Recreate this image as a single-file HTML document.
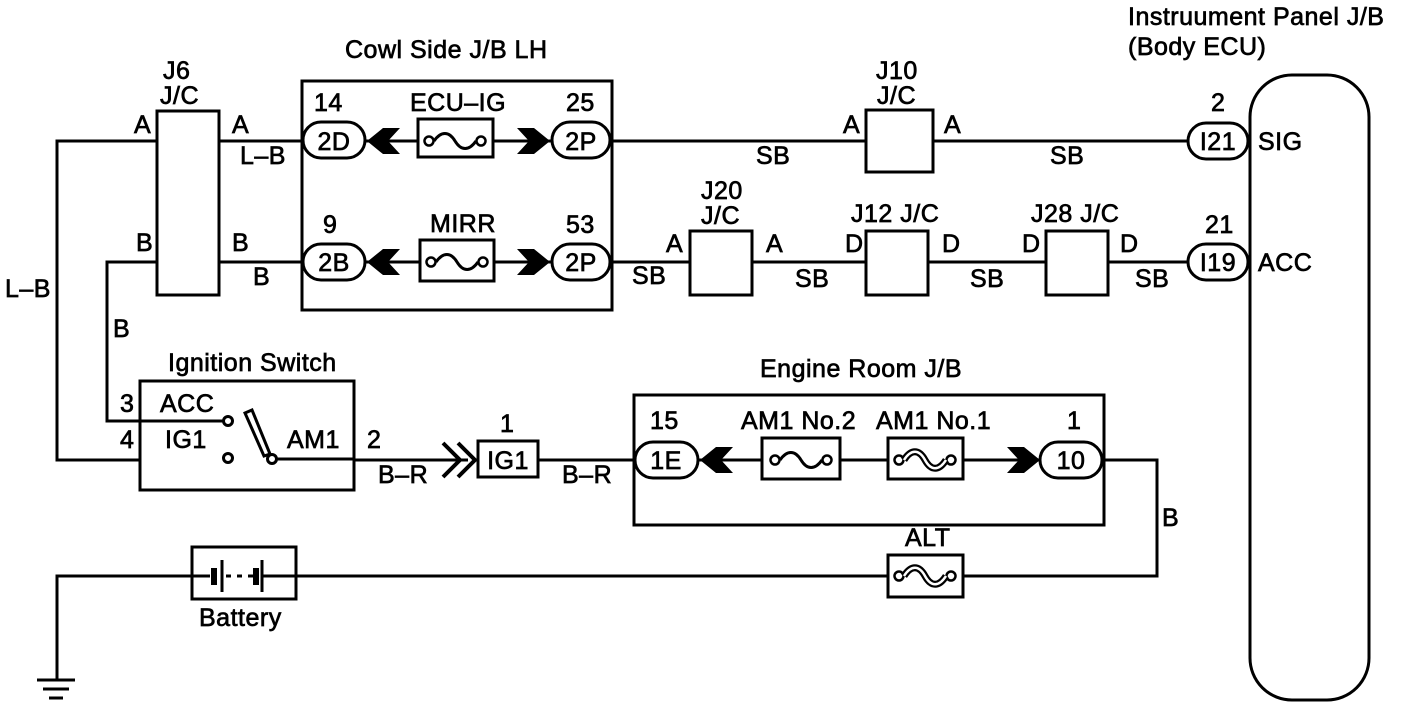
<!DOCTYPE html>
<html><head><meta charset="utf-8"><style>
html,body{margin:0;padding:0;background:#fff}
svg{display:block}
text{font-family:"Liberation Sans",Arial,sans-serif;font-size:25px;letter-spacing:0.5px;fill:#000;stroke:#000;stroke-width:0.7}
</style></head><body>
<svg width="1408" height="706" viewBox="0 0 1408 706" xmlns="http://www.w3.org/2000/svg">
<defs>
<g id="fuse"><circle cx="-26" cy="0" r="4.5" fill="#fff" stroke="#000" stroke-width="2.5"/><circle cx="26" cy="0" r="4.5" fill="#fff" stroke="#000" stroke-width="2.5"/><path d="M-21 0 C-14 -10 -6 -10 0 0 C6 10 14 10 21 0" fill="none" stroke="#000" stroke-width="3"/></g>
<g id="link"><circle cx="-26" cy="0" r="4.5" fill="#fff" stroke="#000" stroke-width="2.5"/><circle cx="26" cy="0" r="4.5" fill="#fff" stroke="#000" stroke-width="2.5"/><path d="M-21 0 C-14 -11 -6 -11 0 0 C6 11 14 11 21 0" fill="none" stroke="#000" stroke-width="7"/><path d="M-21 0 C-14 -11 -6 -11 0 0 C6 11 14 11 21 0" fill="none" stroke="#fff" stroke-width="2.5"/></g>
<path id="al" d="M0 0 L16 -13 L33 -13 L21 0 L33 13 L16 13 Z"/>
<path id="ar" d="M0 0 L-16 -13 L-33 -13 L-21 0 L-33 13 L-16 13 Z"/>
</defs>
<g fill="none" stroke="#000" stroke-width="3">
<path d="M157 141 H57 V460 H140"/>
<path d="M219 141 H305"/>
<path d="M157 262 H107 V421 H224"/>
<path d="M219 262 H305"/>
<path d="M365 141 H552 M365 262 H552"/>
<path d="M610 141 H1188 M610 262 H1188"/>
<path d="M272 460 H468"/>
<path d="M538 460 H635 M698 460 H1040"/>
<path d="M1102 460 H1157 V576 H57 V680"/>
<path d="M37 680 H75 M43 689 H69 M49 698 H63"/>
<rect x="157" y="111" width="62" height="184" fill="#fff"/>
<rect x="302" y="81" width="310" height="229"/>
<rect x="866" y="110" width="67" height="62" fill="#fff"/>
<rect x="690" y="231" width="62" height="64" fill="#fff"/>
<rect x="866" y="231" width="62" height="64" fill="#fff"/>
<rect x="1046" y="231" width="62" height="64" fill="#fff"/>
<rect x="1250" y="75" width="119" height="625" rx="42" fill="#fff"/>
<rect x="303" y="122" width="62" height="36" rx="18" fill="#fff"/>
<rect x="552" y="122" width="58" height="36" rx="18" fill="#fff"/>
<rect x="303" y="244" width="62" height="36" rx="18" fill="#fff"/>
<rect x="552" y="244" width="58" height="36" rx="18" fill="#fff"/>
<rect x="1188" y="123" width="60" height="36" rx="18" fill="#fff"/>
<rect x="1188" y="244" width="60" height="36" rx="18" fill="#fff"/>
<rect x="635" y="442" width="63" height="36" rx="18" fill="#fff"/>
<rect x="1040" y="442" width="62" height="36" rx="18" fill="#fff"/>
<rect x="418" y="119" width="75" height="38" fill="#fff"/>
<rect x="420" y="240" width="74" height="41" fill="#fff"/>
<rect x="762" y="438" width="78" height="41" fill="#fff"/>
<rect x="888" y="438" width="75" height="41" fill="#fff"/>
<rect x="888" y="555" width="75" height="42" fill="#fff"/>
<rect x="140" y="381" width="214" height="109" fill="#fff"/>
<path d="M224 421 H107 M140 460 H57"/>
<circle cx="228" cy="421" r="4.5" fill="#fff"/>
<circle cx="228" cy="458" r="4.5" fill="#fff"/>
<circle cx="272" cy="459" r="4.5" fill="#fff"/>
<path d="M245 413 L252 410 L270 454 L264 456 Z" fill="#fff"/>
<path d="M277 459 H354"/>
<path d="M443 443 L460 460 L443 477 M458 443 L475 460 L458 477" stroke-width="4"/>
<rect x="478" y="441" width="60" height="36" fill="#fff"/>
<rect x="634" y="395" width="470" height="130"/>
<rect x="192" y="547" width="104" height="52" fill="#fff"/>
<path d="M192 576 H210 M226 576 H231 M237 576 H242 M248 576 H253 M262 576 H296" />
<path d="M214 568 V585 M256 568 V585" stroke-width="6"/>
<path d="M222 560 V592 M262 560 V592"/>
</g>
<use href="#fuse" x="455" y="141"/>
<use href="#fuse" x="457" y="262"/>
<use href="#fuse" x="801" y="460"/>
<use href="#link" x="925" y="460"/>
<use href="#link" x="925" y="576"/>
<use href="#al" x="367" y="141"/><use href="#ar" x="550" y="141"/>
<use href="#al" x="367" y="262"/><use href="#ar" x="550" y="262"/>
<use href="#al" x="700" y="460"/><use href="#ar" x="1040" y="460"/>
<text x="163" y="79">J6</text><text x="160" y="104">J/C</text>
<text x="134" y="133">A</text><text x="232" y="133">A</text>
<text x="240" y="164">L–B</text>
<text x="136" y="251">B</text><text x="232" y="251">B</text>
<text x="253" y="285">B</text>
<text x="5" y="297">L–B</text>
<text x="113" y="337">B</text>
<text x="345" y="58">Cowl Side J/B LH</text>
<text x="314" y="111">14</text><text x="410" y="111">ECU–IG</text><text x="566" y="111">25</text>
<text x="334" y="150" text-anchor="middle">2D</text><text x="581" y="150" text-anchor="middle">2P</text>
<text x="323" y="233">9</text><text x="430" y="232">MIRR</text><text x="566" y="233">53</text>
<text x="334" y="271" text-anchor="middle">2B</text><text x="581" y="271" text-anchor="middle">2P</text>
<text x="876" y="79">J10</text><text x="877" y="104">J/C</text>
<text x="843" y="133">A</text><text x="944" y="133">A</text>
<text x="756" y="164">SB</text><text x="1050" y="164">SB</text>
<text x="701" y="199">J20</text><text x="701" y="224">J/C</text>
<text x="851" y="222">J12 J/C</text><text x="1031" y="222">J28 J/C</text>
<text x="666" y="252">A</text><text x="766" y="252">A</text>
<text x="845" y="252">D</text><text x="942" y="252">D</text>
<text x="1022" y="252">D</text><text x="1120" y="252">D</text>
<text x="632" y="284">SB</text><text x="795" y="287">SB</text><text x="970" y="287">SB</text><text x="1135" y="287">SB</text>
<text x="1128" y="25">Instruument Panel J/B</text>
<text x="1128" y="55">(Body ECU)</text>
<text x="1211" y="111">2</text><text x="1218" y="150" text-anchor="middle">I21</text><text x="1258" y="150">SIG</text>
<text x="1205" y="233">21</text><text x="1218" y="271" text-anchor="middle">I19</text><text x="1258" y="271">ACC</text>
<text x="168" y="371">Ignition Switch</text>
<text x="120" y="412">3</text><text x="160" y="412">ACC</text>
<text x="120" y="448">4</text><text x="165" y="448">IG1</text>
<text x="287" y="448">AM1</text><text x="367" y="448">2</text>
<text x="378" y="483">B–R</text>
<text x="500" y="432">1</text><text x="508" y="469" text-anchor="middle">IG1</text>
<text x="562" y="483">B–R</text>
<text x="760" y="377">Engine Room J/B</text>
<text x="650" y="429">15</text><text x="741" y="429">AM1 No.2</text><text x="876" y="429">AM1 No.1</text><text x="1067" y="429">1</text>
<text x="666" y="469" text-anchor="middle">1E</text><text x="1071" y="469" text-anchor="middle">10</text>
<text x="1162" y="526">B</text>
<text x="905" y="546">ALT</text>
<text x="199" y="626">Battery</text>
</svg>
</body></html>
